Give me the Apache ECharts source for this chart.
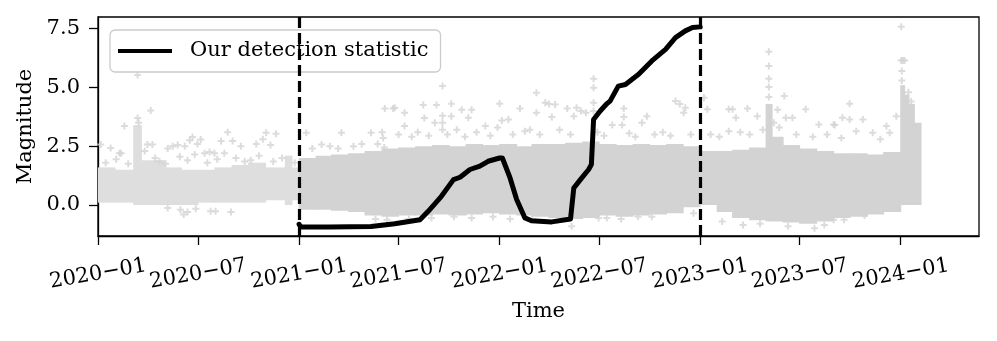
<!DOCTYPE html>
<html><head><meta charset="utf-8">
<script src="https://cdn.jsdelivr.net/npm/echarts@6/dist/echarts.min.js"></script>
<style>html,body{margin:0;padding:0;background:#fff}#c{width:997px;height:341px}</style>
</head><body><div id="c"></div>
<script>
const FONT = 'DejaVu Serif';

// Axis ticks
const xTickDates = ['2020-01-01','2020-07-01','2021-01-01','2021-07-01','2022-01-01','2022-07-01','2023-01-01','2023-07-01','2024-01-01'];
const xTickLabels = ['2020\u221201','2020\u221207','2021\u221201','2021\u221207','2022\u221201','2022\u221207','2023\u221201','2023\u221207','2024\u221201'];
const yTickValues = [0, 2.5, 5, 7.5];
const yTickLabels = ['0.0','2.5','5.0','7.5'];

// Dashed vertical markers
const vLineDates = ['2021-01-01','2023-01-01'];

// Detection statistic
const statDates = ['2021-01-01','2021-01-04','2021-02-25','2021-05-12','2021-06-24','2021-08-09','2021-08-24','2021-09-17','2021-10-09','2021-10-21','2021-11-08','2021-11-26','2021-12-11','2022-01-01','2022-01-06','2022-01-20','2022-02-01','2022-02-16','2022-02-28','2022-04-06','2022-05-10','2022-05-16','2022-05-28','2022-06-12','2022-06-17','2022-06-21','2022-07-03','2022-07-15','2022-07-21','2022-08-05','2022-08-18','2022-09-11','2022-10-05','2022-10-30','2022-11-17','2022-12-05','2022-12-18','2023-01-01'];
const statValues = [-0.82,-0.94,-0.94,-0.92,-0.8,-0.63,-0.27,0.37,1.08,1.18,1.51,1.65,1.86,2.0,2.0,1.15,0.23,-0.55,-0.67,-0.72,-0.6,0.72,1.08,1.51,1.72,3.64,4.0,4.31,4.42,5.06,5.13,5.56,6.13,6.62,7.12,7.41,7.55,7.58];

// Magnitude cloud: envelope per time bin (bin runs to next start)
const bandStart = ['2020-01-01','2020-02-01','2020-03-06','2020-03-20','2020-05-01','2020-06-01','2020-07-01','2020-08-01','2020-09-01','2020-10-01','2020-11-01','2020-12-07','2020-12-19',
  '2021-01-01','2021-02-01','2021-03-01','2021-04-01','2021-05-01','2021-06-01','2021-07-01','2021-08-01','2021-09-01','2021-10-01','2021-11-01','2021-12-01',
  '2022-01-01','2022-02-01','2022-03-01','2022-04-01','2022-05-01','2022-06-01','2022-07-01','2022-08-01','2022-09-01','2022-10-01','2022-11-01','2022-12-01',
  '2023-01-01','2023-02-01','2023-03-01','2023-04-01','2023-05-01','2023-05-12','2023-06-01','2023-07-01','2023-08-01','2023-09-01','2023-10-01','2023-11-01','2023-12-01',
  '2024-01-01','2024-01-08','2024-01-16','2024-01-26'];
const bandLow = [0.1,0.1,0.0,0.0,0.0,0.0,0.1,0.1,0.1,0.1,0.2,0.0,0.2,
  -0.2,-0.2,-0.25,-0.3,-0.45,-0.5,-0.45,-0.45,-0.4,-0.45,-0.4,-0.35,
  -0.4,-0.45,-0.5,-0.55,-0.6,-0.55,-0.45,-0.5,-0.45,-0.4,-0.35,-0.1,
  0.0,-0.3,-0.55,-0.65,-0.7,-0.7,-0.75,-0.8,-0.7,-0.55,-0.5,-0.4,-0.3,
  0.0,0.0,0.0,0.0];
const bandHigh = [1.6,1.5,3.4,1.9,1.6,1.5,1.5,1.6,1.7,1.8,1.6,2.1,1.6,
  2.0,2.1,2.15,2.2,2.3,2.4,2.45,2.5,2.55,2.5,2.6,2.55,
  2.6,2.5,2.6,2.6,2.65,2.7,2.6,2.55,2.6,2.55,2.6,2.5,
  2.3,2.3,2.35,2.45,4.3,2.9,2.55,2.4,2.3,2.2,2.2,2.15,2.25,
  5.1,4.7,4.3,3.5];
const bandEnd = '2024-02-07';

// Individual scattered events outside the dense envelope
const outlierDates = [
  '2020-01-06','2020-01-15','2020-01-24','2020-02-03','2020-02-09','2020-02-12','2020-02-18','2020-02-25','2020-03-13','2020-03-13','2020-03-15','2020-03-26','2020-03-31','2020-04-06','2020-04-09','2020-04-14','2020-04-22','2020-05-03','2020-05-07','2020-05-16','2020-05-25','2020-05-29','2020-06-07','2020-06-12','2020-06-16','2020-06-21','2020-06-25','2020-06-30','2020-07-06','2020-07-13','2020-07-18','2020-07-22','2020-07-31','2020-08-05','2020-08-12','2020-08-18','2020-08-24','2020-09-02','2020-09-08','2020-09-17','2020-09-24','2020-10-05','2020-10-15','2020-10-20','2020-10-27','2020-11-02','2020-11-10','2020-11-15','2020-11-20','2020-12-01','2020-12-24',
  '2020-05-07','2020-05-30','2020-06-05','2020-06-12','2020-06-27','2020-07-24','2020-08-02','2020-08-30',
  '2021-01-14','2021-01-25','2021-02-11','2021-02-26','2021-03-13','2021-03-19','2021-04-10','2021-04-25','2021-05-12','2021-05-24','2021-06-01','2021-06-03','2021-06-05','2021-06-06','2021-06-21','2021-06-24','2021-07-01','2021-07-12','2021-07-12','2021-07-25','2021-08-05','2021-08-15','2021-08-17','2021-08-25','2021-09-05','2021-09-08','2021-09-19','2021-09-19','2021-09-19','2021-09-19','2021-09-28','2021-10-05','2021-10-05','2021-10-15','2021-10-24','2021-10-30','2021-11-05','2021-11-11','2021-11-20','2021-12-06','2021-12-15','2021-12-28',
  '2021-05-20','2021-06-10','2021-07-20','2021-08-30','2021-10-10','2021-11-11','2021-12-20',
  '2022-01-01','2022-01-05','2022-01-17','2022-01-25','2022-02-07','2022-02-16','2022-02-25','2022-03-09','2022-03-09','2022-03-15','2022-03-25','2022-04-01','2022-04-06','2022-04-12','2022-04-20','2022-05-04','2022-05-10','2022-05-16','2022-05-21','2022-05-29','2022-06-07','2022-06-21','2022-06-21','2022-06-21','2022-06-21','2022-06-28','2022-07-10','2022-07-25','2022-08-12','2022-08-15','2022-08-15','2022-08-25','2022-09-05','2022-09-17','2022-09-26','2022-10-10','2022-10-25','2022-11-08','2022-11-17','2022-11-25','2022-12-02','2022-12-05','2022-12-15',
  '2022-01-20','2022-03-01','2022-05-12','2022-06-30','2022-07-15','2022-08-10','2022-09-10','2022-10-05','2022-12-20',
  '2023-01-08','2023-01-14','2023-01-20','2023-02-05','2023-02-22','2023-02-22','2023-03-01','2023-03-07','2023-03-15','2023-03-28','2023-04-01','2023-04-15','2023-04-25','2023-05-06','2023-05-06','2023-05-06','2023-05-06','2023-05-06','2023-05-15','2023-05-22','2023-05-25','2023-06-03','2023-06-06','2023-06-18','2023-06-25','2023-07-12','2023-07-25','2023-08-05','2023-08-20','2023-09-01','2023-09-03','2023-09-15','2023-09-17','2023-09-30','2023-09-30','2023-10-12','2023-10-24','2023-11-11','2023-11-25','2023-12-06','2023-12-12','2023-12-24',
  '2023-02-10','2023-03-20','2023-04-20','2023-06-10','2023-07-28','2023-08-15','2023-09-01','2023-09-20','2023-10-27',
  '2024-01-02','2024-01-02','2024-01-05','2024-01-08','2024-01-03','2024-01-03','2024-01-15','2024-01-20'];
const outlierValues = [
  2.57,1.8,2.43,1.95,2.2,2.2,3.36,1.75,5.53,3.7,3.5,2.3,2.57,4.02,2.57,2.0,1.85,1.75,2.4,2.5,2.55,2.05,2.5,1.9,2.75,2.89,2.15,2.6,2.79,2.2,1.8,2.25,2.2,1.95,2.72,2.2,3.1,2.72,2.0,2.5,1.85,1.9,2.6,2.1,2.8,3.07,2.55,1.85,3.03,2.0,1.8,
  -0.13,-0.2,-0.41,-0.3,-0.16,-0.27,-0.27,-0.3,
  3.07,2.4,2.57,2.5,2.4,3.07,2.5,2.6,3.07,2.6,3.1,2.85,2.45,4.11,4.11,4.14,3.0,3.92,3.36,2.9,3.1,4.25,3.7,2.95,3.5,4.25,5.06,3.8,3.5,3.2,3.0,4.31,3.78,3.2,4.05,2.9,3.71,4.05,3.1,3.36,2.95,3.3,
  -0.6,-0.63,-0.6,-0.55,-0.5,-0.55,-0.5,
  4.31,3.6,3.64,3.0,4.11,3.14,3.2,4.78,3.92,3.0,4.35,4.3,3.74,4.28,3.2,4.11,3.0,3.78,4.14,4.0,3.92,5.37,4.99,4.35,4.0,3.1,2.95,3.4,3.4,4.11,3.74,3.05,2.9,3.5,3.78,3.0,3.1,2.95,4.42,4.3,3.92,4.14,3.0,
  -0.6,-0.6,-0.91,-0.55,-0.55,-0.6,-0.5,-0.5,-0.35,
  4.56,4.07,3.0,2.9,4.07,3.14,4.07,3.71,3.1,4.11,3.0,3.78,3.2,6.52,5.91,5.37,5.02,4.6,3.5,4.05,3.3,4.64,3.71,3.71,3.0,4.07,2.9,3.42,3.0,3.42,3.4,2.85,3.71,4.31,3.64,3.14,3.64,3.07,2.8,3.36,3.07,3.78,
  -0.7,-0.85,-0.8,-0.9,-0.99,-0.85,-0.63,-0.63,-0.45,
  7.58,6.15,6.15,6.15,5.7,5.3,4.8,4.4];

const ts = s => Date.parse(s + 'T00:00:00Z');
const DAY = 86400000;
const PLUS = 'path://M2.5,0H4.5V2.5H7V4.5H4.5V7H2.5V4.5H0V2.5H2.5Z';
const GREY = '#d3d3d3';
const SPARSE_GREY = '#dedede';
const DENSE_FROM = ts('2021-01-01');

const bandData = bandStart.map((d, i) => [ts(d), ts(i + 1 < bandStart.length ? bandStart[i + 1] : bandEnd), bandLow[i], bandHigh[i]]);
const outlierData = outlierDates.map((d, i) => [ts(d), outlierValues[i]]);
const statData = statDates.map((d, i) => [ts(d), statValues[i]]);
const xTickTs = xTickDates.map(ts);

const labelText = {color: '#000', fontFamily: FONT, fontSize: 21};

const chart = echarts.init(document.getElementById('c'), null, {renderer: 'canvas'});
chart.setOption({
  animation: false,
  backgroundColor: '#fff',
  grid: {left: 98, top: 17, width: 881, height: 219, show: true, borderColor: '#000', borderWidth: 1.3, backgroundColor: 'transparent', containLabel: false},
  legend: {
    data: ['Our detection statistic'], left: 110, top: 30, icon: 'rect', itemWidth: 54, itemHeight: 4,
    padding: [8, 12, 8, 8], backgroundColor: 'rgba(255,255,255,0.8)', borderColor: '#cccccc', borderWidth: 1.3, borderRadius: 5,
    selectedMode: false,
    textStyle: {fontFamily: FONT, fontSize: 21, color: '#000', padding: [0, 0, 0, 13], lineHeight: 26}
  },
  xAxis: {
    type: 'value', min: ts('2020-01-01'), max: ts('2024-05-22') + DAY / 2,
    splitLine: {show: false},
    axisLine: {show: true, onZero: false, lineStyle: {color: '#000', width: 1.3}},
    axisTick: {show: true, length: 9, lineStyle: {color: '#000', width: 1.3}, customValues: xTickTs},
    axisLabel: Object.assign({
      customValues: xTickTs,
      formatter: v => { const i = xTickTs.findIndex(t => Math.abs(t - v) < DAY); return i >= 0 ? xTickLabels[i] : ''; },
      rotate: 10, align: 'center', verticalAlign: 'middle', margin: 38, hideOverlap: false
    }, labelText),
    name: 'Time', nameLocation: 'middle', nameGap: 65, nameTextStyle: labelText
  },
  yAxis: {
    type: 'value', min: -1.32, max: 8.0,
    splitLine: {show: false},
    axisLine: {show: true, onZero: false, lineStyle: {color: '#000', width: 1.3}},
    axisTick: {show: true, length: 9, lineStyle: {color: '#000', width: 1.3}, customValues: yTickValues},
    axisLabel: Object.assign({
      customValues: yTickValues,
      formatter: v => { const i = yTickValues.findIndex(t => Math.abs(t - v) < 1e-6); return i >= 0 ? yTickLabels[i] : ''; },
      margin: 18
    }, labelText),
    name: 'Magnitude', nameLocation: 'middle', nameGap: 60, nameRotate: 90, nameTextStyle: labelText
  },
  series: [
    {
      type: 'custom', name: 'cloud', z: 1, silent: true, clip: true,
      encode: {x: [0, 1], y: [2, 3]},
      renderItem: (params, api) => {
        const a = api.coord([api.value(0), api.value(3)]);
        const b = api.coord([api.value(1), api.value(2)]);
        const fill = api.value(0) < DENSE_FROM ? SPARSE_GREY : GREY;
        return {type: 'rect', shape: {x: a[0] - 0.5, y: a[1], width: b[0] - a[0] + 1, height: b[1] - a[1]}, style: {fill: fill}};
      },
      data: bandData
    },
    {
      type: 'scatter', name: 'events', z: 2, silent: true, symbol: PLUS, symbolSize: 7,
      itemStyle: {color: GREY}, data: outlierData
    },
    {
      type: 'line', name: 'Our detection statistic', z: 3, data: statData,
      symbol: 'none', showSymbol: false,
      lineStyle: {color: '#000', width: 5, join: 'round', cap: 'round'},
      itemStyle: {color: '#000'},
      markLine: {
        silent: true, symbol: ['none', 'none'], label: {show: false},
        lineStyle: {color: '#000', type: [11, 5], width: 3.2},
        emphasis: {disabled: true},
        data: vLineDates.map(d => ({xAxis: ts(d)}))
      }
    }
  ]
});
</script>
</body></html>
